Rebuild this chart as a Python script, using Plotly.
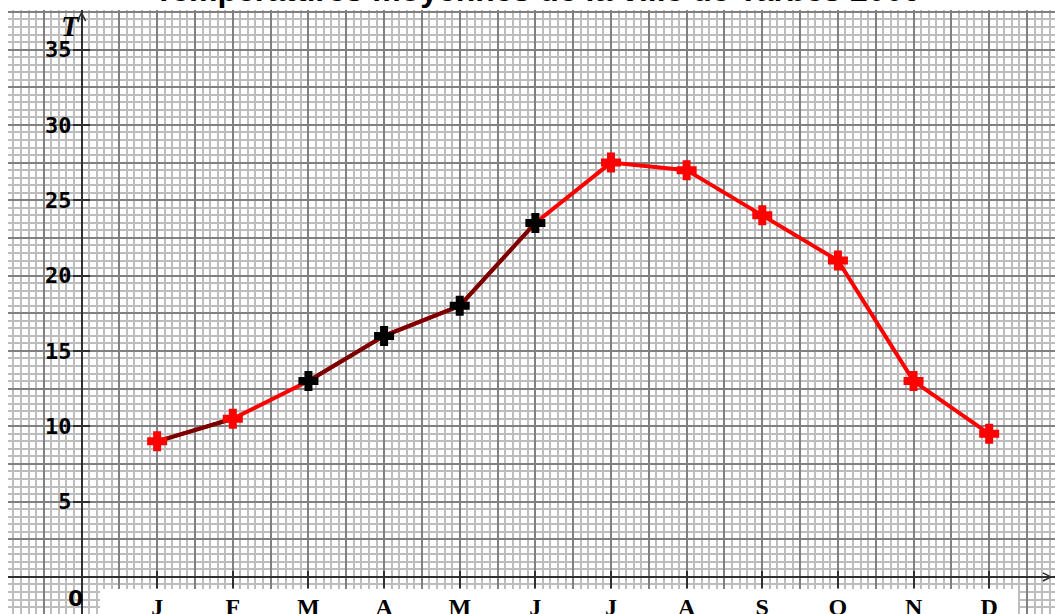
import plotly.graph_objects as go

months = ["J", "F", "M", "A", "M", "J", "J", "A", "S", "O", "N", "D"]
month_pos = [1, 2, 3, 4, 5, 6, 7, 8, 9, 10, 11, 12]
temps = [9, 10.5, 13, 16, 18, 23.5, 27.5, 27, 24, 21, 13, 9.5]
marker_colors = ["#ff0000", "#ff0000", "#000000", "#000000", "#000000", "#000000",
                 "#ff0000", "#ff0000", "#ff0000", "#ff0000", "#ff0000", "#ff0000"]
dark_segments = [(0, 2), (2, 6)]  # index slices drawn in maroon
y_tick_vals = [5, 10, 15, 20, 25, 30, 35]
y_tick_text = ["5", "10", "15", "20", "25", "30", "35"]
title_text = "Températures moyennes de la ville de Tarbes 2009"

W, H = 1055, 614
ML, MT = 8, 10
XR = [-0.972, 12.87]
YR = [-2.46, 37.63]

fig = go.Figure()
fig.add_trace(go.Scatter(x=month_pos, y=temps, mode="lines",
                         line=dict(color="#ff0000", width=4), hoverinfo="skip",
                         xaxis="x2", yaxis="y2"))
for a, b in dark_segments:
    fig.add_trace(go.Scatter(x=month_pos[a:b], y=temps[a:b], mode="lines",
                             line=dict(color="#7a0000", width=4), hoverinfo="skip",
                             xaxis="x2", yaxis="y2"))
fig.add_trace(go.Scatter(x=month_pos, y=temps, mode="markers",
                         marker=dict(symbol="cross", size=15, color=marker_colors,
                                     line=dict(color=marker_colors, width=2)),
                         xaxis="x2", yaxis="y2"))

minor_col = "#bdbdbd"
major_col = "#808080"
axis_col = "#303030"

fig.update_layout(
    width=W, height=H,
    margin=dict(l=ML, r=0, t=MT, b=0, pad=0, autoexpand=False),
    paper_bgcolor="white", plot_bgcolor="white",
    showlegend=False,
    xaxis=dict(range=XR, autorange=False, dtick=0.5, tick0=0, showgrid=True,
               gridcolor=major_col, gridwidth=2, showticklabels=False, ticks="",
               zeroline=True, zerolinecolor=axis_col, zerolinewidth=2,
               minor=dict(dtick=0.1, tick0=0, showgrid=True, gridcolor=minor_col,
                          gridwidth=1.5, ticks=""),
               showline=False, fixedrange=True, automargin=False),
    yaxis=dict(range=YR, autorange=False, dtick=2.5, tick0=0, showgrid=True,
               gridcolor=major_col, gridwidth=2, showticklabels=False, ticks="",
               zeroline=True, zerolinecolor=axis_col, zerolinewidth=2,
               minor=dict(dtick=0.5, tick0=0, showgrid=True, gridcolor=minor_col,
                          gridwidth=1.5, ticks=""),
               showline=False, fixedrange=True, automargin=False),
    xaxis2=dict(range=XR, autorange=False, overlaying="x", anchor="free",
                position=(H - 570) / (H - MT), side="bottom",
                tickmode="array", tickvals=month_pos,
                ticktext=["<b>" + m + "</b>" for m in months],
                ticks="outside", ticklen=17, tickwidth=2, tickcolor=axis_col,
                ticklabelstandoff=-2,
                tickfont=dict(family="Liberation Serif", size=24, color="black"),
                showgrid=False, zeroline=False, showline=False, fixedrange=True,
                automargin=False),
    yaxis2=dict(range=YR, autorange=False, overlaying="y", anchor="free",
                position=(90 - ML) / (W - ML), side="left",
                tickmode="array", tickvals=y_tick_vals,
                ticktext=["<b>" + t + "</b>" for t in y_tick_text],
                ticks="outside", ticklen=17, tickwidth=2, tickcolor=axis_col,
                ticklabelstandoff=-3,
                tickfont=dict(family="DejaVu Sans Mono", size=22, color="black"),
                showgrid=False, zeroline=False, showline=False, fixedrange=True,
                automargin=False),
    shapes=[dict(type="rect", xref="x", yref="y", x0=0.245, x1=12.38,
                 y0=-0.8, y1=-2.6, fillcolor="white", line=dict(width=0),
                 layer="between")],
    annotations=[
        dict(text="<b>" + title_text + "</b>", xref="paper", yref="paper",
             x=(537 - ML) / (W - ML), y=1.0, yshift=0, xanchor="center", yanchor="bottom",
             showarrow=False, font=dict(family="Liberation Sans", size=32, color="black")),
        dict(text="<b><i>T</i></b>", xref="paper", yref="paper",
             x=(70 - ML) / (W - ML), y=1 - 16 / (H - MT), xanchor="center", yanchor="middle",
             showarrow=False, font=dict(family="Liberation Serif", size=29, color="black")),
        dict(text="<b>0</b>", xref="paper", yref="paper",
             x=(75 - ML) / (W - ML), y=(H - 598) / (H - MT), xanchor="center", yanchor="middle",
             showarrow=False, font=dict(family="DejaVu Sans", size=22, color="black")),
        dict(text="", x=0, y=37.56, xref="x", yref="y", ax=0, ay=14,
             showarrow=True, arrowhead=5, arrowsize=1.6, arrowwidth=1, arrowcolor=axis_col),
        dict(text="", x=12.84, y=0, xref="x", yref="y", ax=-14, ay=0,
             showarrow=True, arrowhead=5, arrowsize=1.6, arrowwidth=1, arrowcolor=axis_col),
    ],
)

fig.write_html("out.html", config={"displayModeBar": False},
               post_script="document.body.style.margin='0';")
